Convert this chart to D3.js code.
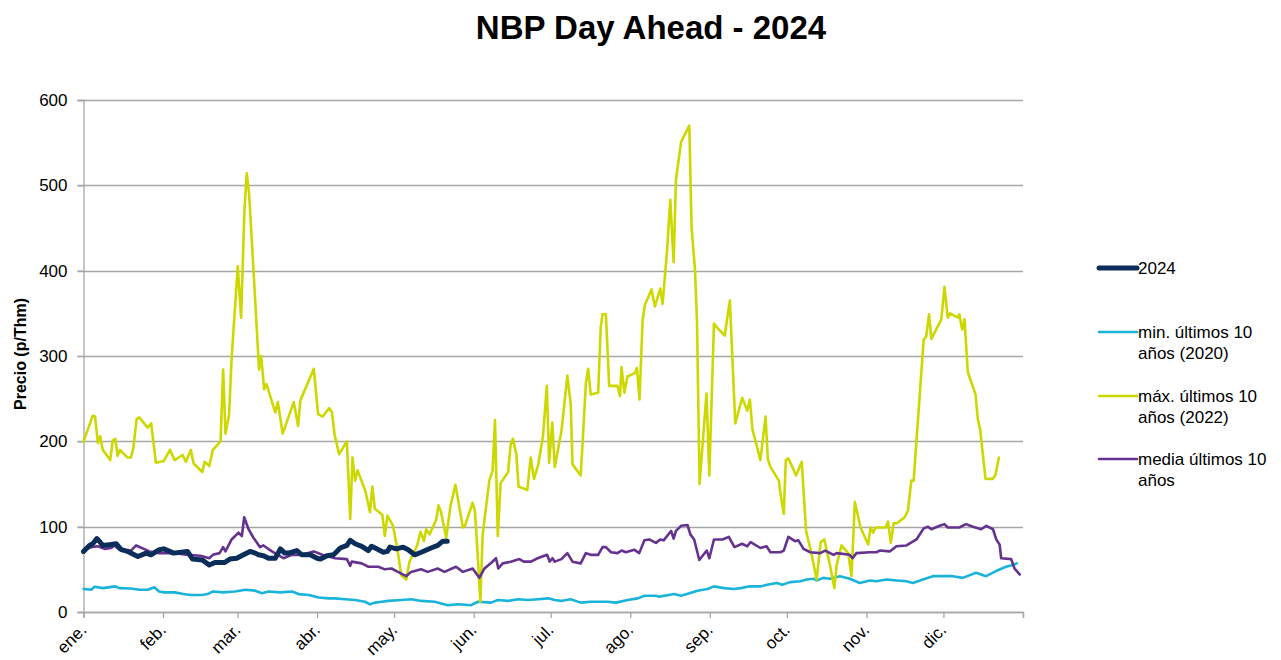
<!DOCTYPE html>
<html>
<head>
<meta charset="utf-8">
<script src="https://cdn.jsdelivr.net/npm/d3@7"></script>
<style>
  html, body { margin: 0; padding: 0; background: #ffffff; }
  svg { display: block; font-family: "Liberation Sans", Arial, sans-serif; }
</style>
</head>
<body>
<svg id="chart" width="1281" height="660"></svg>
<script>
// ---------- DATA (day of year index, value in p/Thm) ----------
const monthLabels = ["ene.", "feb.", "mar.", "abr.", "may.", "jun.", "jul.", "ago.", "sep.", "oct.", "nov.", "dic."];
const monthStartDays = [0, 31, 60, 91, 121, 152, 182, 213, 244, 274, 305, 335];
const yearDays = 366;
const yTicks = [0, 100, 200, 300, 400, 500, 600];

// 2024
const days2024 = [0, 2.3, 3.6, 5.2, 6.2, 7.5, 10.8, 12.7, 14.7, 17.2, 21.2, 24.4, 26.3, 29.5, 31.3, 35.1, 40.5, 42.5, 46.3, 49, 51.2, 55, 57, 59.7, 62.3, 64.9, 66.9, 68.2, 70.1, 72.1, 74.7, 76.7, 78.4, 79.9, 83.1, 85.1, 88.3, 91, 92.3, 94.9, 97.4, 98.7, 100, 102.6, 103.9, 105.8, 108.4, 111, 112.2, 114.2, 116.8, 118.4, 119.4, 121.9, 124.5, 126.5, 129, 131.6, 135.4, 138, 140, 141.7];
const vals2024 = [71, 78, 80, 86, 83, 78, 79, 80, 73, 71, 65, 69, 67, 73, 74, 69, 71, 62, 61, 55, 58, 58, 62, 63, 67, 71, 69, 67, 66, 63, 63, 74, 69, 69, 72, 67, 67, 63, 62, 66, 67, 71, 75, 78, 84, 80, 77, 72, 77, 74, 70, 71, 76, 74, 76, 73, 67, 70, 75, 78, 83, 83];

// min. últimos 10 años (2020)
const daysMin = [0, 3, 4.3, 7.5, 12.4, 14, 18.5, 21.7, 25, 27.6, 29.5, 31.3, 35.5, 38.9, 41.6, 46.3, 48.3, 50.4, 54.4, 59, 63, 66.9, 69.5, 72.1, 76.7, 81.2, 83.8, 87.8, 91.6, 95.5, 98, 101.9, 105.8, 109.7, 111.6, 113.5, 116.2, 118.7, 123.8, 127.7, 131.6, 136.8, 141.9, 145.8, 151, 153.6, 158.8, 161.4, 165.4, 169.3, 173.2, 177.1, 181, 183.6, 186, 189.8, 193.7, 197.6, 204.1, 207.4, 212, 215.9, 218.5, 223, 224.3, 230.2, 232.8, 239.2, 243.1, 245.6, 249.5, 253.4, 256, 259.2, 263.7, 266.3, 270.2, 272.2, 275.3, 279.2, 281.8, 284.4, 285.6, 288.2, 290.8, 294.7, 298.5, 302.4, 306.3, 308.9, 312.8, 316.7, 320.6, 323.1, 327, 330.9, 334.7, 336, 338.6, 342.5, 347.7, 351.6, 355.5, 359.4, 362, 363.6];
const valsMin = [27, 26, 29.5, 28, 30, 28, 27.5, 26, 26, 29, 24, 23, 23, 21, 20, 20, 21, 24, 23, 24, 26, 25, 22, 24, 23, 24, 21, 20, 17, 16, 16, 15, 14, 12, 9, 11, 12, 13, 14, 15, 13, 12, 8, 9, 8, 12, 11, 14, 13, 15, 14, 15, 16, 14, 13, 15, 11, 12, 12, 11, 14, 16, 19, 19, 18, 21, 19, 25, 27, 30, 28, 27, 28, 30, 30, 32, 34, 32, 35, 36, 38, 39, 37, 40, 39, 42, 39, 34, 37, 36, 38, 37, 36, 34, 38, 42, 42, 42, 42, 40, 46, 42, 48, 53, 55, 57];

// máx. últimos 10 años (2022)
const daysMax = [0, 3.6, 4.5, 5.6, 6.5, 7.5, 10.4, 11.4, 12.4, 13.3, 14.2, 17.2, 18.5, 19.4, 20.7, 21.7, 25, 26.4, 27.2, 28.2, 31.3, 33.7, 35.5, 38.6, 39.9, 41.8, 42.9, 46.3, 47.2, 49, 50.4, 53.4, 54.4, 55.3, 56.7, 57.7, 60.1, 61.4, 62.7, 63.6, 64.5, 66.2, 68.4, 69.2, 70.4, 71.3, 74.7, 75.7, 77.6, 81.9, 83.6, 84.5, 89.7, 91.4, 93.2, 95.7, 96.8, 97.8, 99.6, 102.6, 103.9, 104.8, 105.8, 106.8, 109.9, 111.6, 112.5, 113.5, 116.4, 117.4, 118.4, 120.6, 122.5, 123.8, 125.7, 127, 130, 131.3, 132.6, 133.5, 134.8, 137.4, 138.3, 139.3, 141.3, 143, 144.9, 147.8, 148.6, 151.6, 152.5, 153.8, 154.6, 155.5, 158.1, 159.4, 160.3, 161.4, 162.5, 165.4, 166.4, 167.3, 168.6, 169.5, 172.9, 174.2, 175.5, 177.1, 179, 180.5, 181.4, 182.6, 183.6, 186.2, 188.5, 189.8, 190.5, 193.7, 194.4, 195.7, 196.6, 197.6, 200.5, 201.5, 202.2, 203.5, 204.8, 208, 209, 209.6, 210.7, 211.9, 214.8, 215.6, 216.6, 217.8, 218.7, 221.3, 222.6, 223.6, 224.7, 225.6, 227.3, 228.6, 229.9, 230.8, 232.8, 236, 236.9, 238.2, 239, 240, 242.7, 243.8, 245.6, 246.9, 249.8, 251.8, 253.9, 256.6, 258.6, 259.6, 260.6, 263.7, 265.7, 266.6, 267.6, 270.9, 271.5, 272.8, 273.6, 274.6, 277.6, 279.8, 281.5, 283.7, 285.6, 287.2, 288.6, 290.8, 292.5, 293.4, 295.3, 297.9, 299.2, 300.5, 302.7, 305.7, 306.6, 307.6, 308.6, 312.5, 313.4, 314.5, 315.6, 316.9, 319.9, 321.2, 322.5, 323.4, 327.3, 328.3, 329.4, 330.3, 334.2, 335.4, 336.7, 337.6, 340.6, 341.2, 342.3, 343.2, 344.5, 347.5, 348.4, 349.3, 351.4, 354.3, 355.3, 356.6];
const valsMax = [200, 230, 229, 198, 206, 190, 178, 201, 203, 183, 190, 181, 181, 192, 226, 228, 216, 221, 200, 175, 177, 190, 178, 184, 176, 190, 174, 164, 176, 171, 190, 200, 284, 209, 231, 297, 405, 345, 471, 514, 491, 402, 284, 300, 261, 267, 234, 246, 209, 246, 218, 248, 285, 232, 229, 239, 234, 208, 185, 200, 109, 181, 154, 166, 141, 117, 147, 121, 114, 89, 113, 101, 69, 43, 38, 59, 78, 94, 83, 97, 91, 108, 125, 117, 87, 125, 149, 99, 101, 128, 118, 55, 12, 91, 154, 166, 225, 89, 151, 164, 196, 203, 185, 147, 143, 181, 156, 172, 206, 265, 175, 222, 170, 212, 277, 244, 173, 160, 196, 268, 285, 255, 257, 334, 349, 349, 265, 265, 253, 287, 257, 276, 280, 286, 249, 341, 360, 378, 358, 368, 379, 361, 422, 483, 410, 506, 551, 570, 450, 402, 341, 150, 256, 160, 338, 333, 324, 365, 221, 251, 236, 249, 214, 178, 229, 179, 170, 154, 139, 115, 178, 180, 160, 176, 95, 67, 38, 82, 85, 55, 28, 55, 78, 69, 42, 129, 99, 79, 99, 93, 99, 99, 106, 81, 104, 104, 111, 119, 154, 154, 319, 323, 349, 320, 343, 381, 345, 350, 345, 349, 331, 343, 281, 255, 226, 214, 156, 156, 161, 181];

// media últimos 10 años
const daysAvg = [0, 3, 5.6, 8.2, 10.8, 12, 14, 18.5, 20.5, 25.7, 29.5, 35.5, 40.2, 45.5, 49, 50.4, 53, 54.4, 55.3, 57.7, 60.4, 61.7, 62.6, 64.3, 66.2, 68.8, 70.1, 73.4, 77.9, 81.2, 85.1, 89.7, 93, 98, 102.6, 103.9, 104.5, 108.4, 111, 114.9, 117.4, 120, 122.5, 125.7, 127.6, 131.5, 134.1, 138, 140.6, 145.1, 147.8, 151.6, 154.2, 156.2, 159, 160.7, 161.6, 163.3, 166.5, 169.8, 171.5, 174.3, 176.9, 180.6, 181.6, 182.7, 183.6, 186.2, 188.5, 190.5, 193.7, 195.7, 197.6, 200.5, 202.2, 203.5, 205.5, 208, 209.6, 211.3, 214.5, 216.5, 218.5, 220.4, 223, 224.7, 226, 228.9, 229.9, 230.8, 232.8, 235.3, 236.4, 237.9, 239.9, 242.8, 243.8, 245.6, 248.9, 251.4, 253.6, 256.6, 258.6, 259.9, 263.7, 266.1, 267.6, 271.5, 272.8, 274.6, 277.2, 278.5, 280.5, 283.1, 287, 288.9, 292.2, 293.4, 298.5, 299.6, 301.1, 306.3, 308.9, 310.2, 314.1, 316.7, 320.6, 324.5, 327.3, 329, 330.3, 333.5, 335.4, 336.7, 341.2, 343.8, 346.5, 349.7, 351.7, 354.3, 355.6, 356.9, 357.5, 361.4, 362.7, 364.7];
const valsAvg = [73, 76, 77, 74, 75, 78, 73, 72, 78, 71, 69, 69, 67, 66, 63, 67, 69, 76, 71, 85, 93, 89, 111, 97, 87, 76, 78, 71, 63, 67, 67, 71, 67, 63, 62, 54, 59, 57, 53, 53, 50, 51, 47, 42, 47, 50, 47, 51, 47, 53, 47, 51, 40, 51, 58, 63, 51, 57, 59, 62, 59, 59, 63, 67, 59, 63, 59, 62, 69, 59, 57, 69, 67, 67, 76, 76, 70, 69, 72, 70, 73, 69, 84, 85, 81, 85, 84, 95, 86, 95, 101, 102, 91, 85, 61, 72, 63, 85, 85, 88, 76, 80, 77, 82, 75, 77, 70, 70, 72, 88, 83, 84, 74, 70, 69, 72, 67, 69, 67, 63, 69, 70, 70, 72, 71, 77, 78, 85, 98, 100, 97, 101, 103, 99, 99, 103, 100, 97, 101, 97, 85, 79, 63, 62, 51, 44];

const seriesNames = ["2024", "min. últimos 10 años (2020)", "máx. últimos 10 años (2022)", "media últimos 10 años"];
const legendLines = [["2024"], ["min. últimos 10", "años (2020)"], ["máx. últimos 10", "años (2022)"], ["media últimos 10", "años"]];

// ---------- LAYOUT ----------
const svg = d3.select("#chart");
const plot = { left: 83.5, right: 1023, top: 100, bottom: 612 };
const x = d3.scaleLinear().domain([0, yearDays]).range([plot.left, plot.right]);
const y = d3.scaleLinear().domain([0, 600]).range([plot.bottom, plot.top]);
const gridColor = "#a6a6a6";
const fontSize = 17;

const colors = ["#0b2d59", "#1ab3da", "#cdd800", "#65328f"];
const widths = [5, 2.6, 2.6, 2.6];

// title
svg.append("text")
  .attr("x", 651).attr("y", 38.5)
  .attr("text-anchor", "middle")
  .attr("font-size", 33).attr("font-weight", "bold")
  .text("NBP Day Ahead - 2024");

// y title
svg.append("text")
  .attr("transform", "translate(26,354) rotate(-90)")
  .attr("text-anchor", "middle")
  .attr("font-size", 16).attr("font-weight", "bold")
  .text("Precio (p/Thm)");

// gridlines
svg.append("g").selectAll("line").data(yTicks).join("line")
  .attr("x1", plot.left - 6).attr("x2", plot.right)
  .attr("y1", d => Math.round(y(d)) + 0.5).attr("y2", d => Math.round(y(d)) + 0.5)
  .attr("stroke", gridColor).attr("stroke-width", 1.3);

// y axis
const yAxis = d3.axisLeft(y).tickValues(yTicks).tickSize(6).tickPadding(10);
const gy = svg.append("g").attr("transform", `translate(${plot.left},0)`).call(yAxis);
gy.select(".domain").attr("stroke", gridColor).attr("stroke-width", 1.3);
gy.selectAll(".tick line").attr("stroke", gridColor).attr("stroke-width", 1.3);
gy.selectAll(".tick text").attr("font-size", fontSize).attr("fill", "#000")
  .attr("font-family", "Liberation Sans, Arial, sans-serif");

// x axis
const xAxis = d3.axisBottom(x).tickValues(monthStartDays.concat([yearDays])).tickSize(6).tickFormat(() => "");
const gx = svg.append("g").attr("transform", `translate(0,${plot.bottom})`).call(xAxis);
gx.select(".domain").attr("stroke", gridColor).attr("stroke-width", 1.3);
gx.selectAll(".tick line").attr("stroke", gridColor).attr("stroke-width", 1.3);

svg.append("g").selectAll("text").data(monthLabels).join("text")
  .attr("transform", (d, i) => `translate(${x(monthStartDays[i]) + 4},${plot.bottom + 19}) rotate(-45)`)
  .attr("text-anchor", "end")
  .attr("font-size", fontSize)
  .text(d => d);

// lines
const seriesData = [
  d3.zip(days2024, vals2024),
  d3.zip(daysMin, valsMin),
  d3.zip(daysMax, valsMax),
  d3.zip(daysAvg, valsAvg)
];
const line = d3.line().x(d => x(d[0])).y(d => y(d[1]));
svg.append("g").selectAll("path").data([1, 2, 3, 0]).join("path")
  .attr("d", i => line(seriesData[i]))
  .attr("fill", "none")
  .attr("stroke", i => colors[i])
  .attr("stroke-width", i => widths[i])
  .attr("stroke-linejoin", "round")
  .attr("stroke-linecap", "round");

// legend
const legendY = [268, 332, 396, 459];
const lg = svg.append("g");
legendLines.forEach((lines, i) => {
  lg.append("line")
    .attr("x1", 1099).attr("x2", 1137)
    .attr("y1", legendY[i]).attr("y2", legendY[i])
    .attr("stroke", colors[i]).attr("stroke-width", widths[i])
    .attr("stroke-linecap", "round");
  const t = lg.append("text").attr("x", 1138).attr("y", legendY[i] + 6).attr("font-size", fontSize);
  lines.forEach((l, j) => {
    t.append("tspan").attr("x", 1138).attr("dy", j === 0 ? 0 : 21).text(l);
  });
});
</script>
</body>
</html>
